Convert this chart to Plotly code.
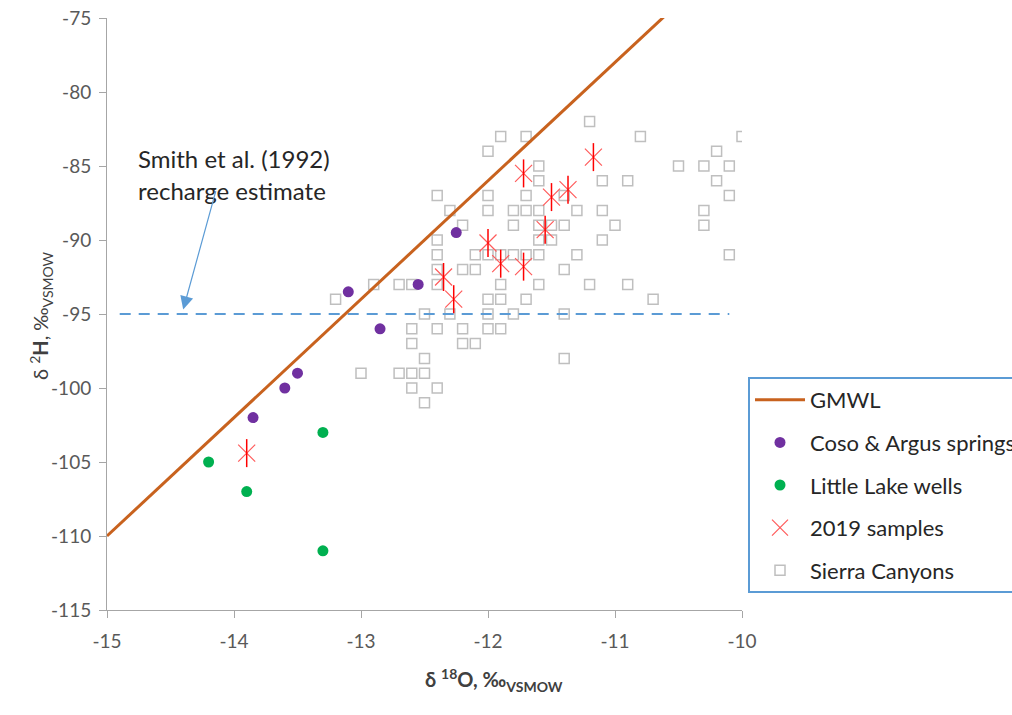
import plotly.graph_objects as go

# Global meteoric water line: dD = 8 * d18O + 10
gmwl_x = [-15.0, -10.0]
gmwl_y = [8 * v + 10 for v in gmwl_x]

# Smith et al. (1992) recharge estimate
recharge_x = [-14.9, -10.1]
recharge_y = [-95, -95]

coso_x = [-13.85, -13.6, -13.5, -13.1, -12.85, -12.55, -12.25]
coso_y = [-102, -100, -99, -93.5, -96, -93, -89.5]

lake_x = [-14.2, -13.9, -13.3, -13.3]
lake_y = [-105, -107, -103, -111]

s2019_x = [-13.9, -12.0, -12.35, -12.27, -11.9, -11.72, -11.72, -11.5, -11.37, -11.55, -11.17]
s2019_y = [-104.4, -90.2, -92.5, -94.0, -91.6, -91.8, -85.5, -87.1, -86.6, -89.3, -84.4]

# Sierra Canyons, listed row by row (dD value -> d18O values)
sierra_rows = {
    -82: [-11.2],
    -83: [-11.9, -11.7, -10.8, -10.0],
    -84: [-12.0, -10.2],
    -85: [-11.6, -10.5, -10.3, -10.1],
    -86: [-11.6, -11.1, -10.9, -10.2],
    -87: [-12.4, -12.0, -11.7, -11.4, -10.1],
    -88: [-12.3, -12.0, -11.8, -11.7, -11.6, -11.3, -11.1, -10.3],
    -89: [-12.2, -11.8, -11.6, -11.5, -11.4, -11.0, -10.3],
    -90: [-12.4, -11.6, -11.5, -11.1],
    -91: [-12.4, -12.1, -12.0, -11.9, -11.8, -11.7, -11.6, -11.3, -10.1],
    -92: [-12.4, -12.2, -12.1, -11.4],
    -93: [-12.9, -12.7, -12.6, -12.4, -11.9, -11.6, -11.2, -10.9],
    -94: [-13.2, -12.0, -11.9, -11.7, -10.7],
    -95: [-12.5, -12.3, -12.0, -11.8, -11.4],
    -96: [-12.6, -12.4, -12.2, -12.0, -11.9],
    -97: [-12.6, -12.2, -12.1],
    -98: [-12.5, -11.4],
    -99: [-13.0, -12.7, -12.6, -12.5],
    -100: [-12.6, -12.4],
    -101: [-12.5],
}
sierra_x = [x for y, xs in sierra_rows.items() for x in xs]
sierra_y = [y for y, xs in sierra_rows.items() for x in xs]

x_ticks = [-15, -14, -13, -12, -11, -10]
y_ticks = [-115, -110, -105, -100, -95, -90, -85, -80, -75]

FONT = "Lato"
BLUE = "#5B9BD5"
TICK_GREY = "#595959"

fig = go.Figure()

fig.add_trace(go.Scatter(
    x=sierra_x, y=sierra_y, mode="markers", name="Sierra Canyons",
    legendgroup="e", legendrank=5,
    marker=dict(symbol="square-open", size=10, color="#BFBFBF", line=dict(width=1.5, color="#BFBFBF")),
))
fig.add_trace(go.Scatter(
    x=recharge_x, y=recharge_y, mode="lines", showlegend=False,
    line=dict(color=BLUE, width=2, dash="11px,8px"),
))
fig.add_trace(go.Scatter(
    x=gmwl_x, y=gmwl_y, mode="lines", name="GMWL",
    legendgroup="a", legendrank=1,
    line=dict(color="#C8621E", width=3),
))
fig.add_trace(go.Scatter(
    x=coso_x, y=coso_y, mode="markers", name="Coso & Argus springs",
    legendgroup="b", legendrank=2,
    marker=dict(symbol="circle", size=11, color="#7030A0"),
))
fig.add_trace(go.Scatter(
    x=lake_x, y=lake_y, mode="markers", name="Little Lake wells",
    legendgroup="c", legendrank=3,
    marker=dict(symbol="circle", size=11, color="#00B050"),
))
fig.add_trace(go.Scatter(
    x=s2019_x, y=s2019_y, mode="markers", name="2019 samples",
    legendgroup="d", legendrank=4,
    marker=dict(symbol="x-thin-open", size=17, color="#FF5A5A", line=dict(width=1.2, color="#FF5A5A")),
))
fig.add_trace(go.Scatter(
    x=s2019_x, y=s2019_y, mode="markers", showlegend=False, legendgroup="d",
    marker=dict(symbol="line-ns-open", size=20, color="#FF0000", line=dict(width=1.5, color="#FF0000")),
))

axis_common = dict(
    showgrid=False, zeroline=False, showline=True, linecolor="#A6A6A6", linewidth=1,
    ticks="outside", ticklen=7, tickcolor="#A6A6A6",
    tickfont=dict(family=FONT, size=19, color=TICK_GREY),
)

fig.update_layout(
    width=1012, height=715,
    margin=dict(l=107, r=270, t=18, b=105, autoexpand=False),
    paper_bgcolor="white", plot_bgcolor="white",
    xaxis=dict(range=[-15, -10], tickvals=x_ticks, ticktext=[str(v) for v in x_ticks],
               ticklabelstandoff=7, **axis_common),
    yaxis=dict(range=[-115, -75], tickvals=y_ticks, ticktext=[str(v) for v in y_ticks],
               ticklabelstandoff=4, **axis_common),
    legend=dict(
        xref="container", yref="container", x=748 / 1012, y=1 - 377 / 715,
        xanchor="left", yanchor="top",
        bordercolor=BLUE, borderwidth=2, bgcolor="white",
        font=dict(family=FONT, size=22, color="#262626"),
        traceorder="grouped", tracegroupgap=11, itemwidth=50,
    ),
    annotations=[
        dict(text="<b>δ <sup>18</sup>O, ‰<sub>VSMOW</sub></b>", xref="paper", yref="paper",
             x=(494 - 107) / 635, y=(610 - 697) / 592, showarrow=False,
             font=dict(family=FONT, size=20, color="#404040")),
        dict(text="δ <sup>2</sup><b>H</b>, ‰<sub>VSMOW</sub>", xref="paper", yref="paper",
             x=(24 - 107) / 635, y=(610 - 315) / 592, showarrow=False, textangle=-90,
             font=dict(family=FONT, size=20, color="#404040")),
        dict(text="Smith et al. (1992)", xref="paper", yref="paper",
             x=(136 - 107) / 635, y=(610 - 142) / 592, xanchor="left", showarrow=False,
             font=dict(family=FONT, size=24, color="#262626")),
        dict(text="recharge estimate", xref="paper", yref="paper",
             x=(136 - 107) / 635, y=(610 - 174) / 592, xanchor="left", showarrow=False,
             font=dict(family=FONT, size=24, color="#262626")),
        dict(text="", x=-14.4, y=-94.7, ax=33, ay=-120, axref="pixel", ayref="pixel",
             showarrow=True, arrowhead=2, arrowsize=2.2, arrowwidth=1.2, arrowcolor=BLUE),
    ],
)

fig.write_html("out.html")
